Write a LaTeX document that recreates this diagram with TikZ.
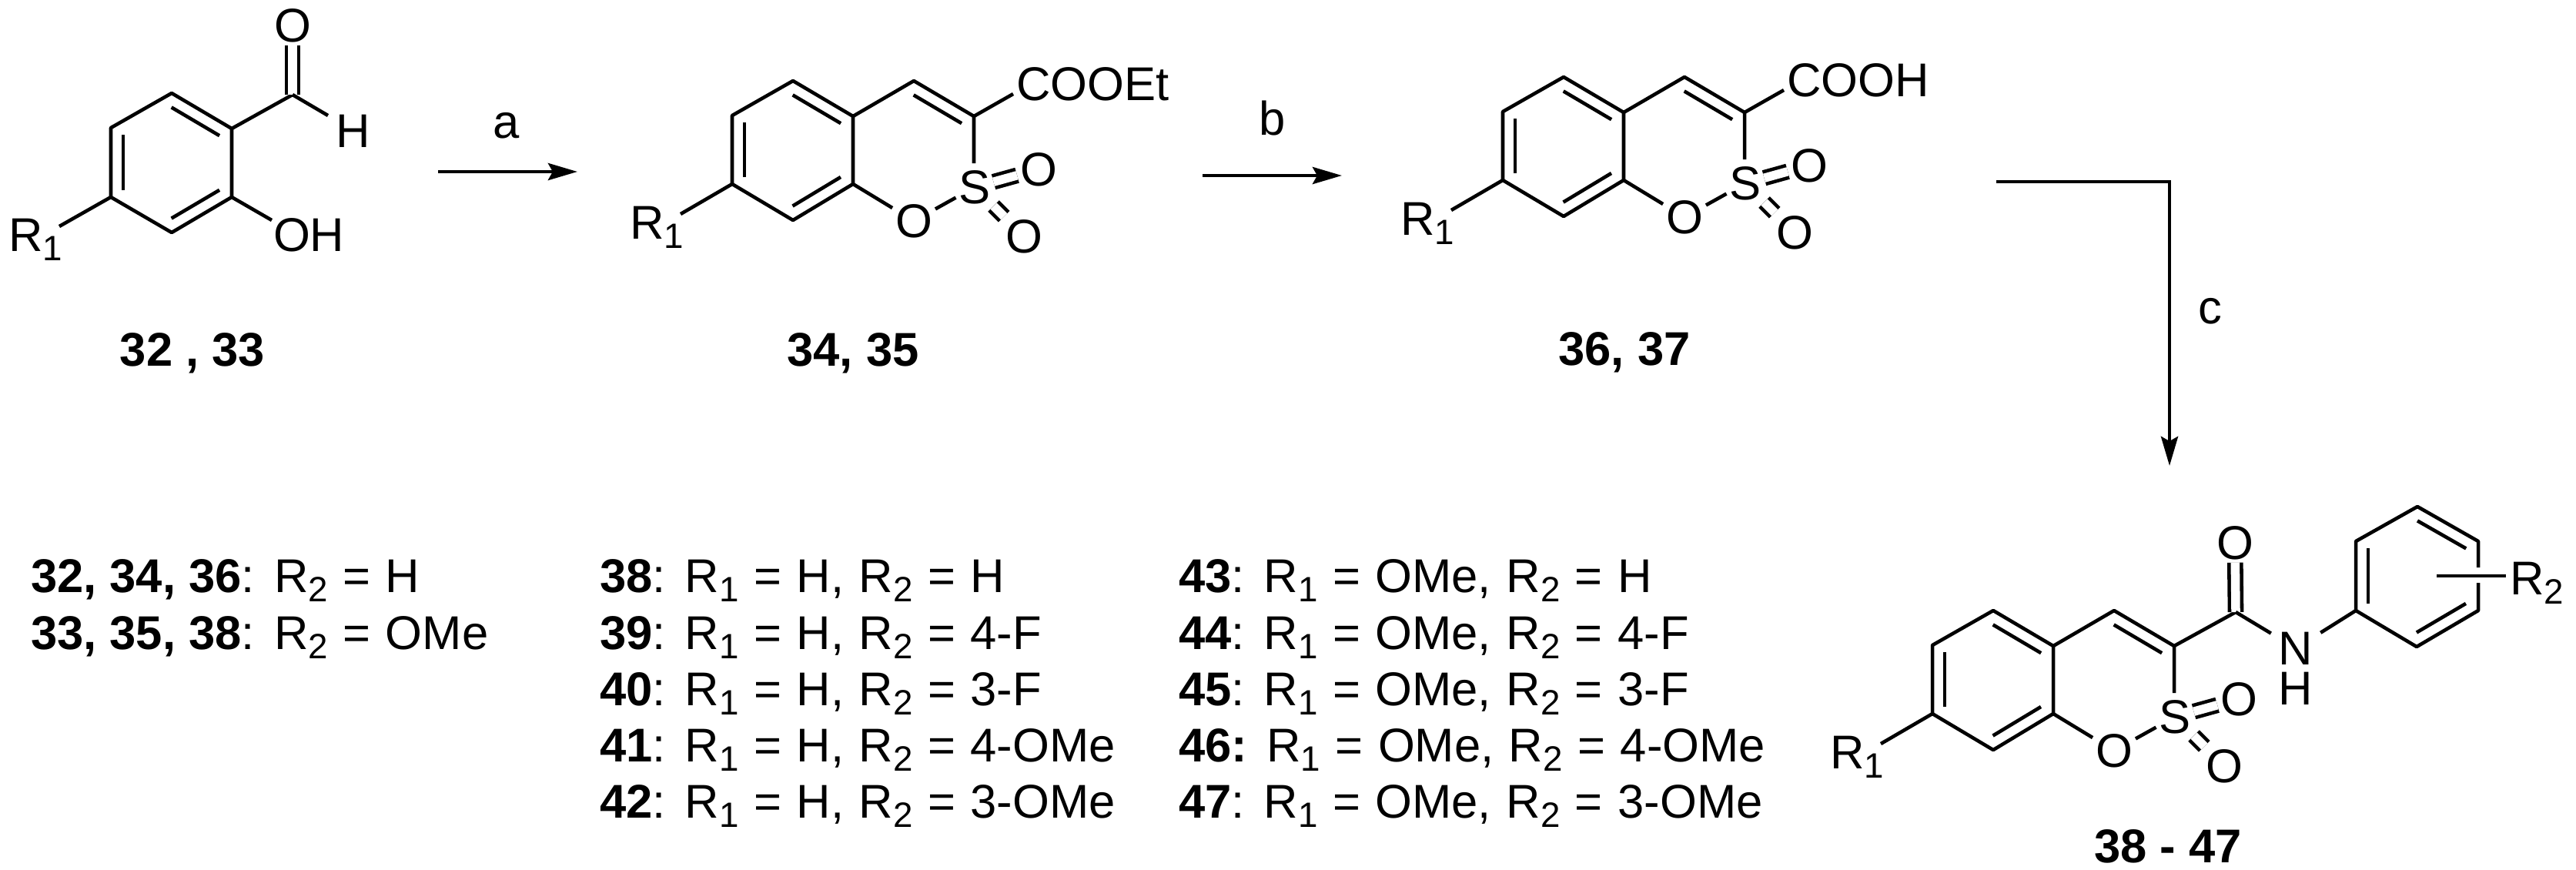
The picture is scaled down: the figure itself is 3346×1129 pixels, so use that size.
\documentclass[tikz,border=0pt]{standalone}
\usepackage{fontspec}
\setmainfont{Liberation Sans}
\usepackage{tikz}
\usetikzlibrary{arrows.meta,calc}

% table text, its word spaces a little wider
\newcommand{\rowfont}{\fontsize{17.5}{20}\selectfont\spaceskip 0.195cm\relax}
% bold list of compound numbers, plain word spaces
\newcommand{\cmpdlist}[1]{{\spaceskip 0pt\textbf{#1}}}

\tikzset{
  bond/.style={line width=1.3pt},
  dblbond/.style={line width=1.3pt,double,double distance=0.115cm},
  rxnarrow/.style={line width=1.35pt,-{Stealth[length=0.38cm,width=0.22cm,inset=0.06cm]}},
  atom/.style={inner sep=0.04cm,outer sep=0pt,font=\fontsize{17.5}{20}\selectfont},
  cmpd/.style={inner sep=0pt,outer sep=0pt,anchor=base,font=\fontsize{17.5}{20}\selectfont\bfseries},
  rowtext/.style={inner sep=0pt,outer sep=0pt,anchor=base west,font=\rowfont},
}
% R with a lowered subscript digit
\newcommand{\Rsub}[1]{R\raisebox{-0.21em}{\fontsize{13}{14}\selectfont #1}}
% inner line of a ring double bond, a to b clockwise round the ring
\newcommand{\innerbond}[2]{\draw[bond] ($(#1)!.1!(#2)!.16cm!-90:(#2)$) -- ($(#2)!.1!(#1)!.16cm!90:(#1)$);}
% benzoxathiine dioxide core, at the place of compound 34
\newcommand{\sultonecore}{
  \coordinate (ca) at (1030,105);
  \coordinate (cb) at (1108,151);
  \coordinate (cc) at (1108,239);
  \coordinate (cd) at (1030,286);
  \coordinate (ce) at (951,239);
  \coordinate (cf) at (951,150);
  \coordinate (cg) at (1187,105);
  \coordinate (ch) at (1265,151);
  \coordinate (roneend) at (884,278);
  \node[atom,inner ysep=0.09cm] (sulfur) at (1266,243) {S};
  \node[atom] (oring) at (1187,287) {O};
  \node[atom] (oup) at (1349,220) {O};
  \node[atom] (odown) at (1330,307) {O};
  \node[atom,anchor=base west] (rone) at (814,310) {\Rsub{1}};
  \draw[bond,line join=round] (cf) -- (ca) -- (cb) -- (cc) -- (cd) -- (ce) -- cycle;
  \draw[bond,line join=round] (cb) -- (cg) -- (ch) -- (ch |- sulfur.north);
  \draw[bond] (cc) -- (oring);
  \draw[bond] (oring) -- (sulfur);
  \draw[dblbond] (sulfur) -- (oup);
  \draw[dblbond] (sulfur) -- (odown);
  \draw[bond] (ce) -- (roneend);
  \innerbond{ca}{cb}
  \innerbond{ce}{cf}
  \innerbond{cc}{cd}
  \innerbond{cg}{ch}
}

\begin{document}
\begin{tikzpicture}[x=0.01cm,y=-0.01cm]
\useasboundingbox (0,0) rectangle (3346,1129);

% aldehyde 32, 33
\coordinate (ba) at (223,121);
\coordinate (bb) at (301,167);
\coordinate (bc) at (301,256);
\coordinate (bd) at (223,302);
\coordinate (be) at (144,256);
\coordinate (bf) at (144,166);
\coordinate (cho) at (380,123);
\coordinate (hend) at (426,150);
\coordinate (ohend) at (353,286);
\coordinate (ronealdend) at (77,294);
\node[atom] (oald) at (380,33) {O};
\node[atom] (hald) at (459,170) {H};
\node[atom,anchor=base west] (hydroxy) at (351,326) {OH};
\node[atom,anchor=base west] (roneald) at (7,326) {\Rsub{1}};
\draw[bond,line join=round] (bf) -- (ba) -- (bb) -- (bc) -- (bd) -- (be) -- cycle;
\draw[bond] (bb) -- (cho);
\draw[dblbond] (cho) -- (oald);
\draw[bond] (cho) -- (hend);
\draw[bond] (bc) -- (ohend);
\draw[bond] (be) -- (ronealdend);
\innerbond{ba}{bb}
\innerbond{be}{bf}
\innerbond{bc}{bd}
\node[cmpd] (lblald) at (250,475) {32 , 33};

% step a
\coordinate (arra) at (569,223);
\coordinate (arrb) at (750,223);
\draw[rxnarrow] (arra) -- (arrb);
\node[atom] (stepa) at (658,163) {a};

% ester 34, 35
\begin{scope}
\sultonecore
\node[atom,anchor=base west] (ester) at (1316,130) {COOEt};
\coordinate (esterend) at (1316,122);
\draw[bond] (ch) -- (esterend);
\end{scope}
\node[cmpd] (lblester) at (1108,475) {34, 35};

% step b
\coordinate (arrc) at (1562,228);
\coordinate (arrd) at (1743,228);
\draw[rxnarrow] (arrc) -- (arrd);
\node[atom] (stepb) at (1653,153) {b};

% acid 36, 37
\begin{scope}[shift={(1001,-5)}]
\sultonecore
\node[atom,anchor=base west] (acid) at (1316,130) {COOH};
\coordinate (acidend) at (1316,122);
\draw[bond] (ch) -- (acidend);
\end{scope}
\node[cmpd] (lblacid) at (2110,474) {36, 37};

% step c
\coordinate (arre) at (2593,236);
\coordinate (arrf) at (2818,236);
\coordinate (arrg) at (2818,605);
\draw[rxnarrow] (arre) -- (arrf) -- (arrg);
\node[atom] (stepc) at (2871,404) {c};

% amide 38 - 47
\begin{scope}[shift={(1559,688)}]
\sultonecore
\coordinate (amide) at (1345,107);
\end{scope}
\coordinate (pa) at (3060,793);
\coordinate (pb) at (3139,840);
\coordinate (pc) at (3219,793);
\coordinate (pd) at (3219,703);
\coordinate (pe) at (3140,658);
\coordinate (pf) at (3060,703);
\coordinate (pgapa) at (3219,757);
\coordinate (pgapb) at (3219,737);
\coordinate (rtwostart) at (3165,748);
\coordinate (rtwoend) at (3255,748);
\node[atom] (oamide) at (2903,705) {O};
\node[atom,inner xsep=0.1cm] (nh) at (2982,842) {N};
\node[atom] (hnh) at (2982,894) {H};
\node[atom,anchor=base west] (rtwo) at (3256,772) {\Rsub{2}};
\draw[bond] (ch) -- (amide);
\draw[dblbond] (amide) -- (oamide);
\draw[bond] (amide) -- (nh);
\draw[bond] (nh) -- (pa);
\draw[bond,line join=round] (pgapa) -- (pc) -- (pb) -- (pa) -- (pf) -- (pe) -- (pd) -- (pgapb);
\draw[bond] (rtwostart) -- (rtwoend);
\innerbond{pe}{pd}
\innerbond{pa}{pf}
\innerbond{pc}{pb}
\node[cmpd] (lblamide) at (2816,1120) {38 - 47};

% substituent table
\node[rowtext] (rowa) at (40,769) {\cmpdlist{32, 34, 36}: \Rsub{2} = H};
\node[rowtext] (rowb) at (40,843) {\cmpdlist{33, 35, 38}: \Rsub{2} = OMe};

\node[rowtext] (rowc) at (779,769) {\textbf{38}: \Rsub{1} = H, \Rsub{2} = H};
\node[rowtext] (rowd) at (779,843) {\textbf{39}: \Rsub{1} = H, \Rsub{2} = 4-F};
\node[rowtext] (rowe) at (779,916) {\textbf{40}: \Rsub{1} = H, \Rsub{2} = 3-F};
\node[rowtext] (rowf) at (779,989) {\textbf{41}: \Rsub{1} = H, \Rsub{2} = 4-OMe};
\node[rowtext] (rowg) at (779,1062) {\textbf{42}: \Rsub{1} = H, \Rsub{2} = 3-OMe};

\node[rowtext] (rowh) at (1531,769) {\textbf{43}: \Rsub{1} = OMe, \Rsub{2} = H};
\node[rowtext] (rowi) at (1531,843) {\textbf{44}: \Rsub{1} = OMe, \Rsub{2} = 4-F};
\node[rowtext] (rowj) at (1531,916) {\textbf{45}: \Rsub{1} = OMe, \Rsub{2} = 3-F};
\node[rowtext] (rowk) at (1531,989) {\textbf{46:} \Rsub{1} = OMe, \Rsub{2} = 4-OMe};
\node[rowtext] (rowl) at (1531,1062) {\textbf{47}: \Rsub{1} = OMe, \Rsub{2} = 3-OMe};
\end{tikzpicture}
\end{document}
